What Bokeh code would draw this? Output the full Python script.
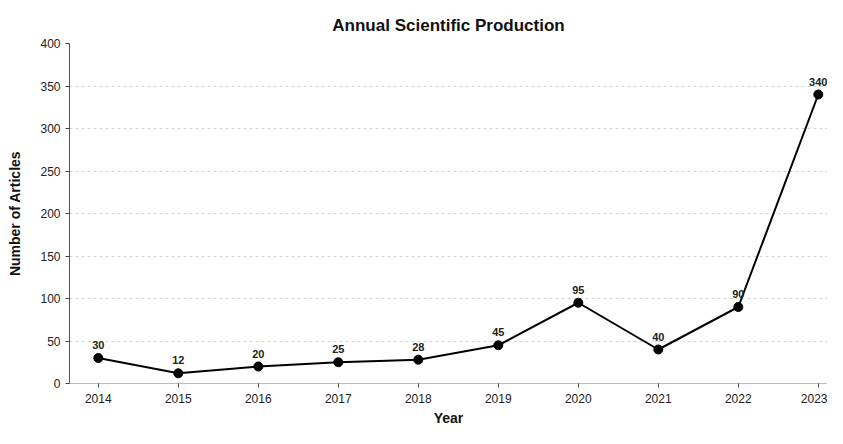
from bokeh.plotting import figure
from bokeh.models import ColumnDataSource, Range1d, FixedTicker, LabelSet
from bokeh.core.properties import value
from bokeh.embed import file_html
from bokeh.resources import INLINE

years = [2014, 2015, 2016, 2017, 2018, 2019, 2020, 2021, 2022, 2023]
articles = [30, 12, 20, 25, 28, 45, 95, 40, 90, 340]
labels = [str(v) for v in articles]
y_ticks = [0, 50, 100, 150, 200, 250, 300, 350, 400]

SANS = "Liberation Sans"

src = ColumnDataSource(dict(x=years, y=articles, t=labels))

p = figure(width=827, height=428, output_backend="svg", toolbar_location=None,
           x_range=Range1d(2013.64, 2023.115), y_range=Range1d(0, 400),
           min_border_left=69, min_border_right=0, min_border_top=43, min_border_bottom=44,
           title="Annual Scientific Production")
p.outline_line_color = None
p.background_fill_color = "white"

p.title.align = "center"
p.title.text_font = SANS
p.title.text_font_size = "17px"
p.title.text_font_style = "bold"
p.title.text_color = "#111111"
p.title.offset = 8
if "standoff" in p.title.properties():
    p.title.standoff = 17

p.line("x", "y", source=src, line_color="black", line_width=2)
p.scatter("x", "y", source=src, size=9, fill_color="black", line_color="black")

lbl = LabelSet(x="x", y="y", text="t", source=src, y_offset=9, text_align="center",
               text_baseline="bottom", text_font=value(SANS), text_font_size="11px",
               text_color="#222222", text_font_style="bold")
p.add_layout(lbl)

p.xaxis.ticker = FixedTicker(ticks=years)
p.yaxis.ticker = FixedTicker(ticks=y_ticks)

p.xgrid.visible = False
p.ygrid.grid_line_color = "#d4d4d4"
p.ygrid.grid_line_dash = "3 3"
p.ygrid.grid_line_width = 1

for ax in (p.xaxis[0], p.yaxis[0]):
    ax.major_label_text_font = SANS
    ax.major_label_text_font_size = "12px"
    ax.major_label_text_color = "#222222"
    ax.minor_tick_line_color = None
    ax.major_tick_in = 0
    ax.major_tick_out = 4
    ax.major_tick_line_color = "#444444"
    ax.axis_label_text_font = SANS
    ax.axis_label_text_font_size = "14px"
    ax.axis_label_text_font_style = "bold"
    ax.axis_label_text_color = "#111111"

p.xaxis.axis_line_color = "#bbbbbb"
p.yaxis.axis_line_color = "#555555"
p.xaxis.axis_label = "Year"
p.yaxis.axis_label = "Number of Articles"
p.xaxis.major_label_standoff = 6
p.yaxis.major_label_standoff = 5
p.xaxis.axis_label_standoff = 4
p.yaxis.axis_label_standoff = 14

open("out.html", "w").write(file_html(p, INLINE))
